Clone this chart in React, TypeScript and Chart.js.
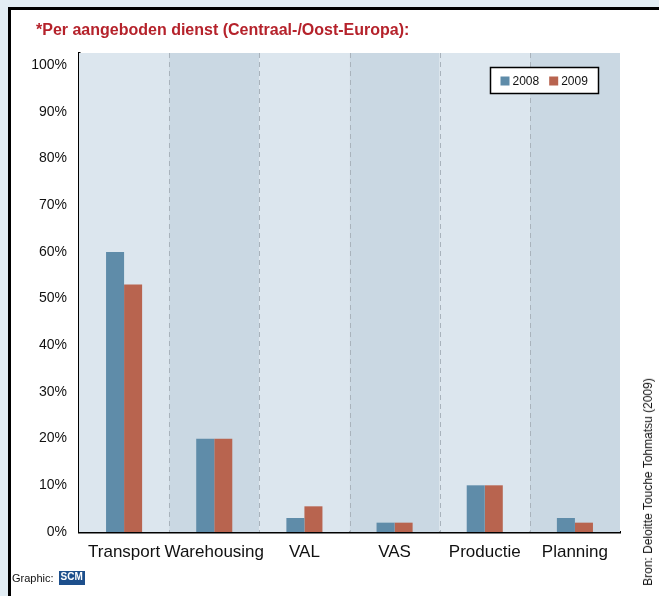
import React, { useEffect, useRef } from "react";
import { Chart, registerables } from "chart.js";

Chart.register(...registerables);

const categories = ["Transport", "Warehousing", "VAL", "VAS", "Productie", "Planning"];
const seriesLabels = ["2008", "2009"];
const values2008 = [60, 20, 3, 2, 10, 3];
const values2009 = [53, 20, 5.5, 2, 10, 2];
const yTicks = [0, 10, 20, 30, 40, 50, 60, 70, 80, 90, 100];

const titleText = "*Per aangeboden dienst (Centraal-/Oost-Europa):";
const sourceText = "Bron: Deloitte Touche Tohmatsu (2009)";

const FONT = "'Liberation Sans', Arial, sans-serif";
const COLOR_2008 = "#5f8ca9";
const COLOR_2009 = "#b8644f";
const BAND_LIGHT = "#dce6ee";
const BAND_DARK = "#cad8e3";

const bandsPlugin = {
  id: "bands",
  beforeDatasetsDraw(chart: any) {
    const { ctx, chartArea, scales } = chart;
    const x = scales.x;
    const n = chart.data.labels.length;
    const w = (chartArea.right - chartArea.left) / n;
    ctx.save();
    for (let i = 0; i < n; i++) {
      const c = x.getPixelForValue(i);
      ctx.fillStyle = i % 2 === 0 ? BAND_LIGHT : BAND_DARK;
      ctx.fillRect(c - w / 2, chartArea.top, w, chartArea.bottom - chartArea.top);
    }
    ctx.strokeStyle = "#a9b3bc";
    ctx.lineWidth = 1;
    ctx.setLineDash([5, 4]);
    for (let i = 1; i < n; i++) {
      const px = Math.round(x.getPixelForValue(i) - w / 2) + 0.5;
      ctx.beginPath();
      ctx.moveTo(px, chartArea.top);
      ctx.lineTo(px, chartArea.bottom);
      ctx.stroke();
    }
    ctx.restore();
  },
};

const legendPlugin = {
  id: "boxLegend",
  afterDraw(chart: any) {
    const { ctx } = chart;
    const bx = 490.5, by = 67.5, bw = 108, bh = 26;
    ctx.save();
    ctx.fillStyle = "#ffffff";
    ctx.fillRect(bx, by, bw, bh);
    ctx.strokeStyle = "#000000";
    ctx.lineWidth = 1.5;
    ctx.strokeRect(bx, by, bw, bh);
    ctx.font = `12px ${FONT}`;
    ctx.textBaseline = "middle";
    ctx.textAlign = "left";
    let cx = bx + 10;
    chart.data.datasets.forEach((ds: any) => {
      ctx.fillStyle = ds.backgroundColor;
      ctx.fillRect(cx, by + bh / 2 - 4, 9, 9);
      ctx.fillStyle = "#111";
      ctx.fillText(ds.label, cx + 12, by + bh / 2 + 1);
      cx += 12 + ctx.measureText(ds.label).width + 10;
    });
    ctx.restore();
  },
};

export default function App() {
  const ref = useRef<HTMLCanvasElement | null>(null);

  useEffect(() => {
    document.body.style.margin = "0";
    document.documentElement.style.overflow = "hidden";
    const canvas = ref.current;
    if (!canvas) return;
    const chart = new Chart(canvas, {
      type: "bar",
      data: {
        labels: categories,
        datasets: [
          { label: seriesLabels[0], data: values2008, backgroundColor: COLOR_2008 },
          { label: seriesLabels[1], data: values2009, backgroundColor: COLOR_2009 },
        ],
      },
      options: {
        responsive: false,
        animation: false,
        devicePixelRatio: 1,
        layout: { padding: { top: 53, right: 39, left: 0, bottom: 0 } },
        plugins: {
          legend: { display: false },
          title: { display: false },
          tooltip: { enabled: false },
        },
        datasets: {
          bar: { categoryPercentage: 0.4, barPercentage: 1 },
        },
        scales: {
          x: {
            grid: { display: false, drawTicks: false },
            border: { display: true, color: "#000", width: 2.5 },
            ticks: {
              color: "#111",
              font: { family: FONT, size: 17 },
              padding: 10,
              maxRotation: 0,
              autoSkip: false,
            },
            afterFit(scale: any) {
              scale.height = 64;
            },
          },
          y: {
            min: 0,
            max: 102.6,
            afterBuildTicks(scale: any) {
              scale.ticks = yTicks.map((v) => ({ value: v }));
            },
            grid: { display: false, drawTicks: false },
            border: { display: true, color: "#000", width: 2.5 },
            ticks: {
              color: "#111",
              font: { family: FONT, size: 14 },
              padding: 12,
              callback: (v: any) => `${v}%`,
            },
            afterFit(scale: any) {
              scale.width = 79;
            },
          },
        },
      },
      plugins: [bandsPlugin, legendPlugin],
    });
    return () => chart.destroy();
  }, []);

  return (
    <div style={{ position: "fixed", left: 0, top: 0, width: 659, height: 596, background: "#e2edf4", overflow: "hidden" }}>
      <div
        style={{
          position: "absolute",
          left: 8,
          top: 7,
          width: 660,
          height: 600,
          background: "#ffffff",
          borderLeft: "3px solid #000",
          borderTop: "3px solid #000",
        }}
      />
      <canvas ref={ref} width={659} height={596} style={{ position: "absolute", left: 0, top: 0 }} />
      <div
        style={{
          position: "absolute",
          left: 36,
          top: 21,
          fontFamily: FONT,
          fontWeight: "bold",
          fontSize: 16,
          color: "#b5222b",
          whiteSpace: "nowrap",
        }}
      >
        {titleText}
      </div>
      <div
        style={{
          position: "absolute",
          left: 12,
          top: 571,
          fontFamily: FONT,
          fontSize: 11,
          color: "#111",
          whiteSpace: "nowrap",
          display: "flex",
          alignItems: "center",
          gap: 5,
        }}
      >
        <span>Graphic:</span>
        <span
          style={{
            background: "#1d4f8c",
            color: "#fff",
            fontWeight: "bold",
            fontSize: 10,
            padding: "0 2px",
            lineHeight: "12px",
            borderBottom: "2px solid #1d4f8c",
          }}
        >
          SCM
        </span>
      </div>
      <div
        style={{
          position: "absolute",
          left: 648,
          top: 482,
          transform: "translate(-50%, -50%) rotate(-90deg)",
          fontFamily: FONT,
          fontSize: 12,
          color: "#111",
          whiteSpace: "nowrap",
        }}
      >
        {sourceText}
      </div>
    </div>
  );
}
